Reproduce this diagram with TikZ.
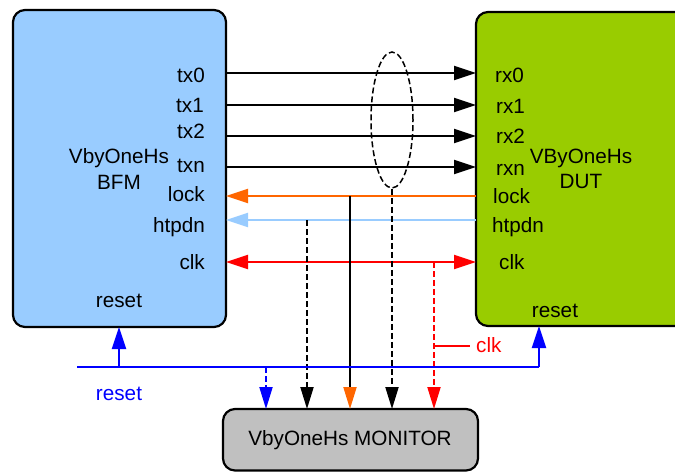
\documentclass[tikz,border=0pt]{standalone}
\usepackage{fontspec}
\setmainfont{Liberation Sans}
\usetikzlibrary{arrows.meta,shapes.geometric}
\definecolor{bfmfill}{HTML}{99CCFF}
\definecolor{dutfill}{HTML}{99CC00}
\definecolor{monfill}{HTML}{C0C0C0}
\definecolor{orangeC}{HTML}{FF6600}
\definecolor{ltblue}{HTML}{99CCFF}
\definecolor{redC}{HTML}{FF0000}
\definecolor{blueC}{HTML}{0000FF}
\begin{document}
\begin{tikzpicture}[x=1pt,y=-1pt,
  font=\fontsize{20.7}{24}\selectfont,
  box/.style={draw=black,line width=2.2pt,rounded corners=12pt},
  lbl/.style={inner sep=0pt},
  sig/.style={line width=2pt},
  tip/.style={-{Triangle[length=22pt,width=14pt]}},
  dtip/.style={{Triangle[length=22pt,width=14pt]}-{Triangle[length=22pt,width=14pt]}},
  rtip/.style={{Triangle[length=22pt,width=14pt]}-},
  dashline/.style={dash pattern=on 6pt off 3pt},
]
\clip (0,0) rectangle (675,472);
% boxes
\draw[box,fill=bfmfill] (13,10) rectangle (226,327);
\draw[box,fill=dutfill] (476,12) rectangle (720,326);
\draw[box,fill=monfill] (223,409) rectangle (478,470.5);
\node[lbl] (montext) at (350,440) {VbyOneHs MONITOR};

% BFM labels
\node[lbl,anchor=base] (bfm1) at (119,163) {VbyOneHs};
\node[lbl,anchor=base] (bfm2) at (119,189) {BFM};
\node[lbl,anchor=base east] (tx0) at (205,82) {tx0};
\node[lbl,anchor=base east] (tx1) at (204,112) {tx1};
\node[lbl,anchor=base east] (tx2) at (205,138) {tx2};
\node[lbl,anchor=base east] (txn) at (205,172) {txn};
\node[lbl,anchor=base east] (lockl) at (205,201) {lock};
\node[lbl,anchor=base east] (htpdnl) at (205,232) {htpdn};
\node[lbl,anchor=base east] (clkl) at (205,269) {clk};
\node[lbl,anchor=base] (resetl) at (119,307) {reset};

% DUT labels
\node[lbl,anchor=base] (dut1) at (581,163) {VByOneHs};
\node[lbl,anchor=base] (dut2) at (581,188) {DUT};
\node[lbl,anchor=base west] (rx0) at (495,82) {rx0};
\node[lbl,anchor=base west] (rx1) at (496,113) {rx1};
\node[lbl,anchor=base west] (rx2) at (496,143) {rx2};
\node[lbl,anchor=base west] (rxn) at (496,175) {rxn};
\node[lbl,anchor=base west] (lockr) at (493,203) {lock};
\node[lbl,anchor=base west] (htpdnr) at (492,232) {htpdn};
\node[lbl,anchor=base west] (clkr) at (499,269) {clk};
\node[lbl,anchor=base] (resetr) at (555,317) {reset};

% port coordinates
\foreach \n/\y in {tx0/73,tx1/105,tx2/136,txn/167,lock/196,htpdn/220,clk/262}{
  \coordinate (L\n) at (226,\y);
  \coordinate (R\n) at (476,\y);
}
% data lines
\draw[sig,tip] (Ltx0) -- (Rtx0);
\draw[sig,tip] (Ltx1) -- (Rtx1);
\draw[sig,tip] (Ltx2) -- (Rtx2);
\draw[sig,tip] (Ltxn) -- (Rtxn);
\draw[sig,orangeC,rtip] (Llock) -- (Rlock);
\draw[sig,ltblue,rtip] (Lhtpdn) -- (Rhtpdn);
\draw[sig,redC,dtip] (Lclk) -- (Rclk);

% ellipse
\node[draw,line width=1.5pt,dash pattern=on 6pt off 3pt,ellipse,minimum width=42pt,minimum height=136pt,inner sep=0pt] (ell) at (392,120) {};

% monitor taps
\coordinate (tapLock) at (350,196);
\coordinate (monLock) at (350,409);
\coordinate (tapHt) at (307,220);
\coordinate (monHt) at (307,409);
\coordinate (monEll) at (392,409);
\coordinate (tapClk) at (434,262);
\coordinate (monClk) at (434,409);
\coordinate (tapRst) at (266,367);
\coordinate (monRst) at (266,409);
\draw[sig,-{Triangle[length=22pt,width=13pt,color=orangeC]}] (tapLock) -- (monLock);
\draw[sig,dashline,-{Triangle[length=22pt,width=13pt]}] (tapHt) -- (monHt);
\draw[sig,dashline,-{Triangle[length=22pt,width=13pt]}] (ell.south) -- (monEll);
\draw[sig,redC,dashline,-{Triangle[length=22pt,width=13pt]}] (tapClk) -- (monClk);

% reset net
\coordinate (rstStart) at (77,367);
\coordinate (rstBfm) at (119,367);
\coordinate (bfmBot) at (119,327);
\coordinate (rstCorner) at (539,367);
\coordinate (dutBot) at (539,326);
\draw[sig,blueC] (rstStart) -- (rstCorner);
\draw[sig,blueC,tip] (rstCorner) -- (dutBot);
\draw[sig,blueC,tip] (rstBfm) -- (bfmBot);
\draw[sig,blueC,dashline,-{Triangle[length=22pt,width=13pt]}] (tapRst) -- (monRst);
\node[lbl,anchor=base,text=blueC] (rstlabel) at (119,400) {reset};

% clk label
\coordinate (clkTap2) at (434,346);
\coordinate (clkTick) at (470,346);
\draw[sig,redC] (clkTap2) -- (clkTick);
\node[lbl,anchor=base west,text=redC] (clklabel) at (476,352) {clk};
\end{tikzpicture}
\end{document}
